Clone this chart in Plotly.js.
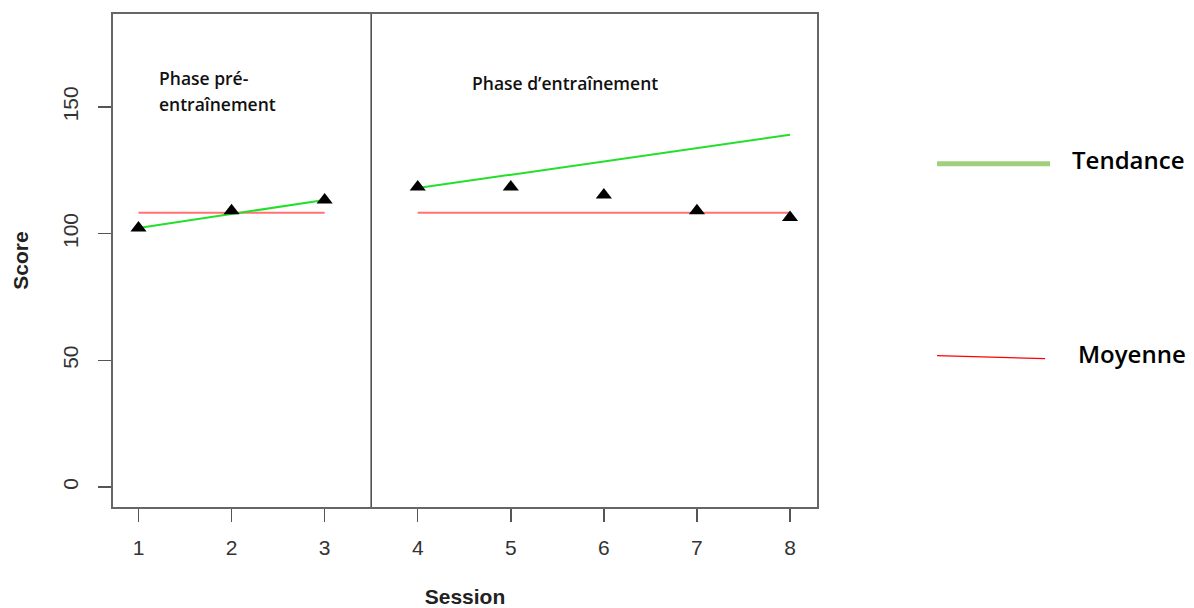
<!DOCTYPE html>
<html>
<head>
<meta charset="utf-8">
<script src="https://cdn.plot.ly/plotly-3.0.1.min.js"></script>
<style>html,body{margin:0;padding:0;background:#fff;}#chart{width:1194px;height:608px;}</style>
</head>
<body>
<div id="chart"></div>
<script>
// Data
const sessions = [1, 2, 3, 4, 5, 6, 7, 8];
const scores = [102.2, 109.0, 113.3, 118.4, 118.4, 115.3, 109.0, 106.4];

const phase1X = [1, 3];
const phase1Trend = [102.2, 113.3];
const phase1Mean = [108.2, 108.2];

const phase2X = [4, 8];
const phase2Trend = [118.0, 139.0];
const phase2Mean = [108.2, 108.2];

const phaseBoundary = 3.5;
const xTicks = [1, 2, 3, 4, 5, 6, 7, 8];
const yTicks = [0, 50, 100, 150];

const labelPhase1a = "Phase pré-";
const labelPhase1b = "entraînement";
const labelPhase2 = "Phase d’entraînement";
const legendTrend = "Tendance";
const legendMean = "Moyenne";

const green = "#22e02a";
const red = "#ff7272";

const traces = [
  {x: phase1X, y: phase1Mean, mode: "lines", line: {color: red, width: 2}, hoverinfo: "skip"},
  {x: phase2X, y: phase2Mean, mode: "lines", line: {color: red, width: 2}, hoverinfo: "skip"},
  {x: phase1X, y: phase1Trend, mode: "lines", line: {color: green, width: 2}, hoverinfo: "skip"},
  {x: phase2X, y: phase2Trend, mode: "lines", line: {color: green, width: 2}, hoverinfo: "skip"},
  {x: sessions, y: scores, mode: "markers", marker: {symbol: "triangle-up", size: 14, color: "#000"}}
];

const tickFont = {family: "Liberation Sans, Arial, sans-serif", size: 21, color: "#333"};
const textFont = {family: "Open Sans, Noto Sans, sans-serif", size: 17.5, color: "#111", weight: 600};
const legFont = {family: "Open Sans, Noto Sans, sans-serif", size: 24, color: "#000", weight: 600};
const titleFont = {family: "Liberation Sans, Arial, sans-serif", size: 21, color: "#222"};

const layout = {
  width: 1194, height: 608,
  margin: {l: 113, r: 377, t: 14, b: 101, pad: 0},
  paper_bgcolor: "#fff", plot_bgcolor: "#fff",
  showlegend: false,
  xaxis: {
    range: [0.726, 8.29], tickvals: xTicks, ticktext: xTicks.map(String),
    ticks: "outside", ticklen: 13, tickwidth: 1.5, tickcolor: "#555",
    showline: true, mirror: true, linecolor: "#666", linewidth: 2,
    showgrid: false, zeroline: false, tickfont: tickFont, ticklabelstandoff: 8,
    title: {text: "<b>Session</b>", font: titleFont, standoff: 34},
    automargin: false
  },
  yaxis: {
    range: [-7.9, 186.7], tickvals: yTicks, ticktext: yTicks.map(String),
    ticks: "outside", ticklen: 13, tickwidth: 1.5, tickcolor: "#555", tickangle: -90,
    showline: true, mirror: true, linecolor: "#666", linewidth: 2,
    showgrid: false, zeroline: false, tickfont: tickFont, ticklabelstandoff: 12,
    title: {text: "<b>Score</b>", font: titleFont, standoff: 24},
    automargin: false
  },
  shapes: [
    {type: "line", xref: "x", yref: "paper", x0: phaseBoundary, x1: phaseBoundary, y0: 0, y1: 1, line: {color: "#444", width: 1.5}},
    {type: "line", xref: "paper", yref: "paper", x0: 1.1705, x1: 1.331, y0: 0.696, y1: 0.696, line: {color: "#a0cf7e", width: 5}},
    {type: "line", xref: "paper", yref: "paper", x0: 1.1705, x1: 1.324, y0: 0.307, y1: 0.301, line: {color: "#ff0000", width: 1.2}}
  ],
  annotations: [
    {x: 1.2, y: 161.5, xref: "x", yref: "y", text: labelPhase1a, showarrow: false, xanchor: "left", yanchor: "middle", font: textFont},
    {x: 1.2, y: 151.2, xref: "x", yref: "y", text: labelPhase1b, showarrow: false, xanchor: "left", yanchor: "middle", font: textFont},
    {x: 4.56, y: 159.5, xref: "x", yref: "y", text: labelPhase2, showarrow: false, xanchor: "left", yanchor: "middle", font: textFont},
    {x: 1.36, y: 0.704, xref: "paper", yref: "paper", text: legendTrend, showarrow: false, xanchor: "left", yanchor: "middle", font: legFont},
    {x: 1.368, y: 0.312, xref: "paper", yref: "paper", text: legendMean, showarrow: false, xanchor: "left", yanchor: "middle", font: legFont}
  ]
};

Plotly.newPlot("chart", traces, layout, {displayModeBar: false, staticPlot: true});
</script>
</body>
</html>
